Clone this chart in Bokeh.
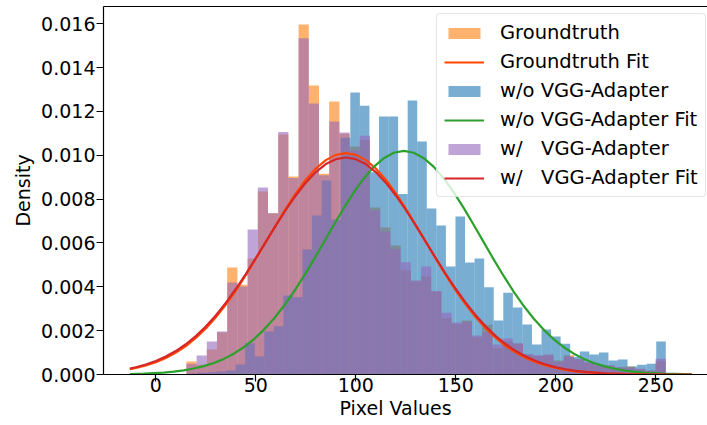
import numpy as np
from bokeh.plotting import figure
from bokeh.models import (FixedTicker, PrintfTickFormatter, LinearAxis, Range1d,
                          Legend, LegendItem, Title)
from bokeh.embed import file_html
from bokeh.resources import INLINE

# ---------------- data ----------------
n_bins = 50
gt_range = (0, 255)     # Groundtruth histogram range
wo_range = (16, 255)    # w/o VGG-Adapter histogram range
w_range = (0, 255)      # w/ VGG-Adapter histogram range

gt_density = [0, 0, 0, 0.00059, 0.00044, 0.00114, 0.00193, 0.00488, 0.00410, 0.00529,
              0.00835, 0.00736, 0.01095, 0.00903, 0.01597, 0.01318, 0.00916, 0.01245, 0.01098, 0.01040,
              0.01070, 0.00762, 0.00671, 0.00589, 0.00474, 0.00425, 0.00447, 0.00380, 0.00257, 0.00230,
              0.00246, 0.00170, 0.00227, 0.00120, 0.00150, 0.00140, 0.00090, 0.00085, 0.00088, 0.00064,
              0.00088, 0.00070, 0.00054, 0.00046, 0.00040, 0.00032, 0.00036, 0.00025, 0.00017, 0.00060]

wo_density = [0.00004, 0.00008, 0.00010, 0.00014, 0.00018, 0.00046, 0.00143, 0.00082, 0.00196, 0.00220,
              0.00360, 0.00352, 0.00570, 0.00725, 0.00885, 0.00707, 0.01080, 0.01286, 0.01226, 0.00923,
              0.01177, 0.01177, 0.00824, 0.01250, 0.01063, 0.00757, 0.00680, 0.00493, 0.00721, 0.00511,
              0.00529, 0.00398, 0.00246, 0.00373, 0.00306, 0.00228, 0.00137, 0.00205, 0.00173, 0.00140,
              0.00080, 0.00105, 0.00091, 0.00100, 0.00064, 0.00068, 0.00036, 0.00044, 0.00049, 0.00150]

w_density = [0, 0, 0, 0.00049, 0.00087, 0.00151, 0.00196, 0.00420, 0.00401, 0.00661,
             0.00853, 0.00736, 0.01106, 0.00896, 0.01534, 0.01236, 0.00909, 0.01154, 0.01104, 0.01022,
             0.01089, 0.00748, 0.00651, 0.00573, 0.00512, 0.00429, 0.00493, 0.00380, 0.00282, 0.00237,
             0.00240, 0.00178, 0.00193, 0.00137, 0.00164, 0.00143, 0.00094, 0.00087, 0.00091, 0.00058,
             0.00082, 0.00072, 0.00056, 0.00041, 0.00042, 0.00033, 0.00030, 0.00026, 0.00018, 0.00072]

gt_fit_x = [-13, -10, -5, 0, 5, 10, 15, 20, 25, 30, 35, 40, 45, 50, 55, 60, 65, 70, 75, 80, 85, 90,
            95, 100, 105, 110, 115, 120, 125, 130, 135, 140, 145, 150, 155, 160, 165, 170, 175, 180,
            185, 190, 195, 200, 205, 210, 215, 225, 235, 245, 255, 268]
gt_fit_y = [0.00024, 0.000295, 0.00041, 0.00056, 0.000753, 0.000997, 0.001299, 0.001665, 0.002101,
            0.002608, 0.003186, 0.003831, 0.004533, 0.005278, 0.006049, 0.006821, 0.00757, 0.008267,
            0.008885, 0.009397, 0.009781, 0.010019, 0.0101, 0.010019, 0.009781, 0.009397, 0.008885,
            0.008267, 0.00757, 0.006821, 0.006049, 0.005278, 0.004533, 0.003831, 0.003186, 0.002608,
            0.002101, 0.001665, 0.001299, 0.000997, 0.000753, 0.00056, 0.00041, 0.000295, 0.000209,
            0.000146, 0.0001, 0.000045, 0.000019, 0.0000075, 0.0000028, 0.0000007]

wo_fit_x = [-13, -6, 4, 9, 14, 19, 24, 29, 34, 39, 44, 49, 54, 59, 64, 69, 74, 79, 84, 89, 94, 99,
            104, 109, 114, 119, 124, 129, 134, 139, 144, 149, 154, 159, 164, 169, 174, 179, 184, 189,
            194, 199, 204, 209, 214, 219, 224, 229, 234, 239, 244, 254, 264, 268]
wo_fit_y = [0.0000213, 0.0000394, 0.0000898, 0.000132, 0.000191, 0.000272, 0.000381, 0.000525,
            0.000712, 0.000949, 0.001244, 0.001605, 0.002038, 0.002543, 0.003123, 0.003773, 0.004484,
            0.005242, 0.006028, 0.006819, 0.007588, 0.008305, 0.008943, 0.009473, 0.00987, 0.010116,
            0.0102, 0.010116, 0.00987, 0.009473, 0.008943, 0.008305, 0.007588, 0.006819, 0.006028,
            0.005242, 0.004484, 0.003773, 0.003123, 0.002543, 0.002038, 0.001605, 0.001244, 0.000949,
            0.000712, 0.000525, 0.000381, 0.000272, 0.000191, 0.000132, 0.0000898, 0.0000394,
            0.0000162, 0.0000112]

w_fit_x = [-13, -10, -5, 0, 5, 10, 15, 20, 25, 30, 35, 40, 45, 50, 55, 60, 65, 70, 75, 80, 85, 90,
           95, 100, 105, 110, 115, 120, 125, 130, 135, 140, 145, 150, 155, 160, 165, 170, 175, 180,
           185, 190, 195, 200, 205, 210, 215, 225, 235, 245, 255, 268]
w_fit_y = [0.000273, 0.000332, 0.000456, 0.000615, 0.000818, 0.00107, 0.00138, 0.001752, 0.00219,
           0.002696, 0.003268, 0.003901, 0.004585, 0.005307, 0.006049, 0.00679, 0.007505, 0.008167,
           0.008753, 0.009237, 0.0096, 0.009824, 0.0099, 0.009824, 0.0096, 0.009237, 0.008753,
           0.008167, 0.007505, 0.00679, 0.006049, 0.005307, 0.004585, 0.003901, 0.003268, 0.002696,
           0.00219, 0.001752, 0.00138, 0.00107, 0.000818, 0.000615, 0.000456, 0.000332, 0.000239,
           0.000169, 0.000118, 0.0000545, 0.0000238, 0.0000097, 0.0000037, 0.000001]

x_ticks = [0, 50, 100, 150, 200, 250]
y_ticks = [0.000, 0.002, 0.004, 0.006, 0.008, 0.010, 0.012, 0.014, 0.016]

labels = ["Groundtruth", "Groundtruth Fit", "w/o VGG-Adapter", "w/o VGG-Adapter Fit",
          "w/   VGG-Adapter", "w/   VGG-Adapter Fit"]
x_title = "Pixel Values"
y_title = "Density"

# ---------------- styling ----------------
FONT = "DejaVu Sans"
FS = "19px"
C_ORANGE = "#ff7f0e"
C_BLUE = "#1f77b4"
C_PURPLE = "#9467bd"
C_GT_FIT = "#ff4500"
C_WO_FIT = "#2ca02c"
C_W_FIT = "#d62728"

p = figure(width=707, height=425, output_backend="svg", toolbar_location=None,
           x_range=Range1d(-26.15, 275.85), y_range=Range1d(0, 0.016789),
           min_border_left=103, min_border_right=0, min_border_top=6, min_border_bottom=51)
p.outline_line_color = None
p.xgrid.visible = False
p.ygrid.visible = False
p.background_fill_color = "white"
p.border_fill_color = "white"


def edges(rng):
    e = np.linspace(rng[0], rng[1], n_bins + 1)
    return e[:-1], e[1:]


hist_r = []
for dens, rng, col in [(gt_density, gt_range, C_ORANGE),
                       (wo_density, wo_range, C_BLUE),
                       (w_density, w_range, C_PURPLE)]:
    l, r = edges(rng)
    hist_r.append(p.quad(left=l, right=r, bottom=0, top=dens, fill_color=col, fill_alpha=0.6,
                         line_color=None))

fit_r = []
for xs, ys, col in [(gt_fit_x, gt_fit_y, C_GT_FIT),
                    (wo_fit_x, wo_fit_y, C_WO_FIT),
                    (w_fit_x, w_fit_y, C_W_FIT)]:
    fit_r.append(p.line(xs, ys, line_color=col, line_width=2.2))

# axes
for ax in (p.xaxis[0], p.yaxis[0]):
    ax.axis_line_color = "black"
    ax.axis_line_width = 1.2
    ax.major_tick_line_color = "black"
    ax.major_tick_line_width = 1.2
    ax.major_tick_in = 0
    ax.major_tick_out = 7
    ax.minor_tick_line_color = None
    ax.major_label_text_font = FONT
    ax.major_label_text_font_size = FS
    ax.major_label_text_color = "black"
    ax.axis_label_text_font = FONT
    ax.axis_label_text_font_size = FS
    ax.axis_label_text_font_style = "normal"
    ax.axis_label_text_color = "black"

p.xaxis.ticker = FixedTicker(ticks=x_ticks)
p.yaxis.ticker = FixedTicker(ticks=y_ticks)
p.yaxis.formatter = PrintfTickFormatter(format="%.3f")
p.xaxis.major_label_standoff = -4
p.yaxis.major_label_standoff = 1
p.yaxis.axis_label = y_title
p.yaxis.axis_label_standoff = 4

p.add_layout(Title(text=x_title, align="left", offset=236, standoff=0, text_font=FONT,
                   text_font_size=FS, text_font_style="normal", text_color="black"), "below")

top = LinearAxis(ticker=FixedTicker(ticks=[]), major_label_text_font_size="0px",
                 major_tick_line_color=None, minor_tick_line_color=None,
                 axis_line_color="black", axis_line_width=1.2)
p.add_layout(top, "above")

items = [LegendItem(label=labels[0], renderers=[hist_r[0]]),
         LegendItem(label=labels[1], renderers=[fit_r[0]]),
         LegendItem(label=labels[2], renderers=[hist_r[1]]),
         LegendItem(label=labels[3], renderers=[fit_r[1]]),
         LegendItem(label=labels[4], renderers=[hist_r[2]]),
         LegendItem(label=labels[5], renderers=[fit_r[2]])]
lg = Legend(items=items, location=(333, 177), padding=7, spacing=6, margin=0,
            glyph_width=40, glyph_height=14, label_height=20, label_standoff=16,
            label_text_font=FONT, label_text_font_size="19.5px", label_text_color="black",
            border_line_color="#cccccc", border_line_width=1, border_radius=4,
            background_fill_alpha=0.8)
p.add_layout(lg)

open("out.html", "w").write(file_html(p, INLINE))
